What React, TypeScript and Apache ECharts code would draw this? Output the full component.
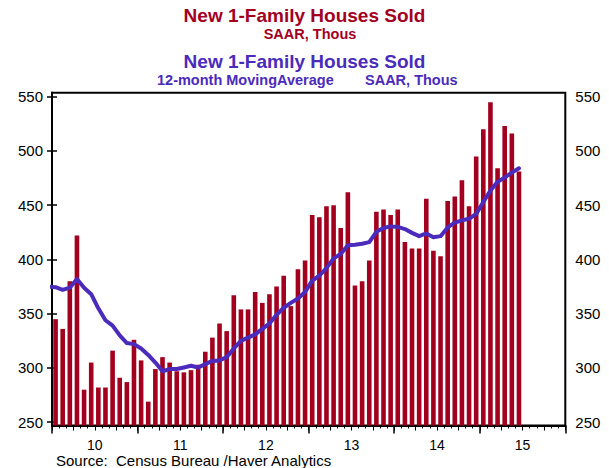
import React, { useEffect, useRef } from "react";
import * as echarts from "echarts";

// ---------- data ----------
const YEAR_LABELS = ["10", "11", "12", "13", "14", "15"];
const Y_TICKS = [250, 300, 350, 400, 450, 500, 550];

// New 1-Family Houses Sold, SAAR, Thous (monthly, Jan 2010 - Jun 2015)
const SALES = [
  345, 336, 380, 422, 280, 305, 282, 282, 316, 291, 287, 326,
  307, 269, 299, 310, 305, 297, 296, 298, 303, 315, 328, 341,
  334, 367, 354, 354, 370, 360, 368, 375, 385, 357, 391, 399,
  441, 439, 449, 450, 429, 462, 376, 380, 399, 444, 446, 441,
  446, 416, 410, 410, 456, 408, 403, 454, 458, 473, 449, 495,
  520, 545, 484, 523, 516, 481,
];

// 12-month moving average (Dec 2009 value, then Jan 2010 - Jun 2015)
const MA_DEC_2009 = 375;
const MOVING_AVG = [
  374.5, 372, 374, 382, 374, 368, 355, 344, 339, 330, 323, 322,
  318, 312, 305, 297, 299, 299, 300.5, 302, 300.5, 303.5, 306.5, 307,
  310, 318, 325, 328, 331, 336, 341, 349, 355.5, 360, 364, 370,
  380.5, 385, 392, 401, 405, 413, 413.5, 414.5, 416, 425.5, 429, 430.5,
  430, 428, 424.5, 421.5, 424, 420.5, 421.5, 429.5, 434, 436, 437.5, 442,
  453, 463.5, 471.5, 475.5, 480, 484,
];

const RED = "#A3001F";
const BLUE = "#4A2BBC";
const FONT = '"Liberation Sans", Arial, Helvetica, sans-serif';

export default function App() {
  const ref = useRef<HTMLDivElement>(null);

  useEffect(() => {
    document.body.style.margin = "0";
    if (!ref.current) return;
    const chart = echarts.init(ref.current, undefined, { renderer: "svg" });

    const totalMonths = YEAR_LABELS.length * 12;
    const barData = SALES.map((v, i) => [i + 0.5, v]);
    const lineData = [[-0.5, MA_DEC_2009], ...MOVING_AVG.map((v, i) => [i + 0.5, v])];
    const midYears = YEAR_LABELS.map((_, i) => i * 12 + 6);

    const yAxisCommon = {
      type: "value" as const,
      min: 247,
      max: 553.6,
      splitLine: { show: false },
      axisLine: { show: true, lineStyle: { color: "#000", width: 2 } },
      axisTick: { show: true, length: 5, customValues: Y_TICKS, lineStyle: { color: "#000", width: 1.5 } },
    };

    const titleText = (text: string, x: number, y: number, color: string, size: number, align: string) => ({
      type: "text",
      x,
      y,
      style: {
        text,
        fill: color,
        font: `bold ${size}px ${FONT}`,
        align,
        verticalAlign: "middle",
      },
    });

    chart.setOption({
      animation: false,
      backgroundColor: "#fff",
      textStyle: { fontFamily: FONT },
      grid: {
        left: 52,
        right: 43.7,
        top: 92.8,
        bottom: 42.5,
        show: true,
        borderColor: "#000",
        borderWidth: 2,
        backgroundColor: "transparent",
      },
      xAxis: [
        {
          type: "value",
          min: 0,
          max: totalMonths,
          interval: 3,
          position: "bottom",
          axisLine: { show: true, lineStyle: { color: "#000", width: 2 } },
          axisTick: { show: true, length: 5, lineStyle: { color: "#000", width: 1 } },
          minorTick: { show: true, splitNumber: 3, length: 3, lineStyle: { color: "#000", width: 1 } },
          splitLine: { show: false },
          axisLabel: {
            customValues: midYears,
            formatter: (v: number) => YEAR_LABELS[Math.floor(v / 12)] ?? "",
            margin: 12,
            fontSize: 14,
            color: "#000",
            fontFamily: FONT,
          },
        },
        {
          type: "value",
          min: 0,
          max: totalMonths,
          interval: 12,
          position: "bottom",
          axisLine: { show: false },
          axisTick: { show: true, length: 8, lineStyle: { color: "#000", width: 1.5 } },
          axisLabel: { show: false },
          splitLine: { show: false },
        },
      ],
      yAxis: [
        {
          ...yAxisCommon,
          position: "left",
          axisLabel: { customValues: Y_TICKS, margin: 9, fontSize: 15, color: "#000", fontFamily: FONT },
        },
        {
          ...yAxisCommon,
          position: "right",
          axisLabel: { customValues: Y_TICKS, margin: 10, fontSize: 15, color: "#000", fontFamily: FONT },
        },
      ],
      series: [
        {
          type: "bar",
          name: "New 1-Family Houses Sold",
          xAxisIndex: 0,
          yAxisIndex: 0,
          data: barData,
          barWidth: 4.6,
          itemStyle: { color: RED },
          z: 2,
        },
        {
          type: "line",
          name: "12-month Moving Average",
          xAxisIndex: 0,
          yAxisIndex: 0,
          data: lineData,
          showSymbol: false,
          symbol: "none",
          clip: true,
          lineStyle: { color: BLUE, width: 4, cap: "round", join: "round" },
          z: 3,
        },
      ],
      graphic: [
        titleText("New 1-Family Houses Sold", 304.5, 15, RED, 19, "center"),
        titleText("SAAR, Thous", 310, 33.5, RED, 14.5, "center"),
        titleText("New 1-Family Houses Sold", 304.5, 61.5, BLUE, 19, "center"),
        titleText("12-month MovingAverage", 157, 79.5, BLUE, 14.5, "left"),
        titleText("SAAR, Thous", 365, 79.5, BLUE, 14.5, "left"),
        {
          type: "text",
          x: 56,
          y: 460,
          style: { text: "Source:  Census Bureau /Haver Analytics", fill: "#000", font: `15px ${FONT}`, align: "left", verticalAlign: "middle" },
        },
      ],
    });

    return () => chart.dispose();
  }, []);

  return <div ref={ref} style={{ position: "fixed", left: 0, top: 0, width: 609, height: 468 }} />;
}
